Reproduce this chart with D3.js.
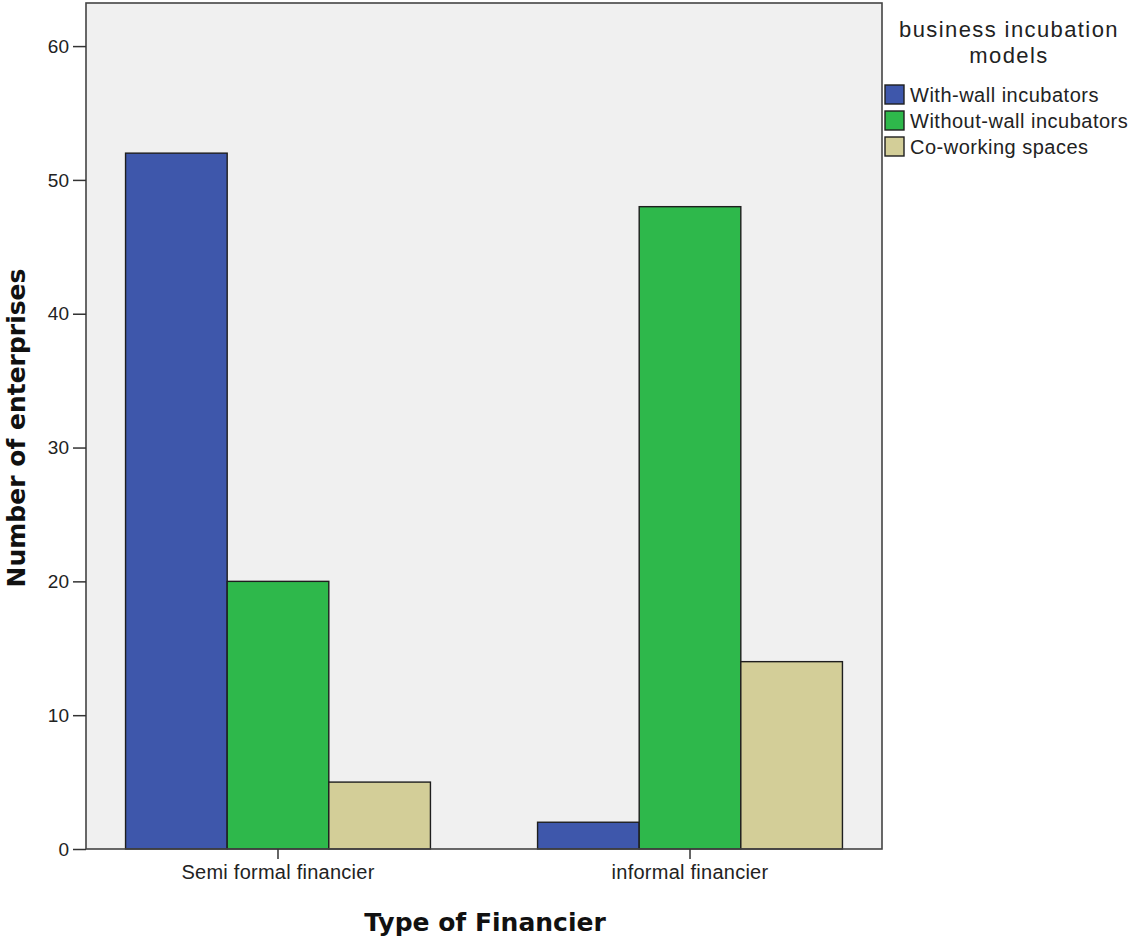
<!DOCTYPE html>
<html>
<head>
<meta charset="utf-8">
<script src="https://cdn.jsdelivr.net/npm/d3@7"></script>
<style>
  html, body { margin: 0; padding: 0; background: #ffffff; }
  svg { display: block; font-family: "Liberation Sans", Arial, sans-serif; }
</style>
</head>
<body>
<svg id="chart" width="1132" height="936"></svg>
<script>
// Clustered bar chart: enterprises by financier type and incubation model
const categories = ["Semi formal financier", "informal financier"];
const seriesNames = ["With-wall incubators", "Without-wall incubators", "Co-working spaces"];
const withWall = [52, 2];
const withoutWall = [20, 48];
const coworking = [5, 14];
const yTicks = [0, 10, 20, 30, 40, 50, 60];
const colors = ["#3e57ab", "#2eb84b", "#d3ce98"];

const series = [withWall, withoutWall, coworking];

const svg = d3.select("#chart");
const plot = { left: 86, right: 882, top: 3, bottom: 849 };

const x = d3.scaleBand()
  .domain(categories)
  .range([plot.left, plot.right])
  .paddingInner(0.26)
  .paddingOuter(0.096);

const xInner = d3.scaleBand()
  .domain(seriesNames)
  .range([0, x.bandwidth()]);

const y = d3.scaleLinear()
  .domain([0, 63.22])
  .range([plot.bottom, plot.top]);

// plot background
svg.append("rect")
  .attr("x", plot.left).attr("y", plot.top)
  .attr("width", plot.right - plot.left).attr("height", plot.bottom - plot.top)
  .attr("fill", "#f0f0f0");

// bars
const groups = svg.append("g").selectAll("g")
  .data(categories)
  .join("g")
  .attr("transform", d => `translate(${x(d)},0)`);

groups.selectAll("rect")
  .data((c, ci) => seriesNames.map((s, si) => ({ s, si, v: series[si][ci] })))
  .join("rect")
  .attr("x", d => xInner(d.s))
  .attr("y", d => y(d.v))
  .attr("width", xInner.bandwidth())
  .attr("height", d => y(0) - y(d.v))
  .attr("fill", d => colors[d.si])
  .attr("stroke", "#1e1e1e")
  .attr("stroke-width", 1.4);

// frame
svg.append("rect")
  .attr("x", plot.left).attr("y", plot.top)
  .attr("width", plot.right - plot.left).attr("height", plot.bottom - plot.top)
  .attr("fill", "none")
  .attr("stroke", "#444")
  .attr("stroke-width", 1.6);

// y axis
const yAxis = svg.append("g")
  .attr("transform", `translate(${plot.left},0)`)
  .call(d3.axisLeft(y).tickValues(yTicks).tickSize(13).tickPadding(4));
yAxis.select(".domain").remove();
yAxis.selectAll(".tick line").attr("stroke", "#333").attr("stroke-width", 1.5);
yAxis.selectAll(".tick text")
  .attr("fill", "#222")
  .style("font-size", "19px");

// x axis
const xAxis = svg.append("g")
  .attr("transform", `translate(0,${plot.bottom})`)
  .call(d3.axisBottom(x).tickSize(10).tickPadding(6));
xAxis.select(".domain").remove();
xAxis.selectAll(".tick line").attr("stroke", "#333").attr("stroke-width", 1.5);
xAxis.selectAll(".tick text")
  .attr("fill", "#222")
  .style("font-size", "20px")
  .style("letter-spacing", "0.25px");

// axis titles
svg.append("text")
  .attr("x", 485).attr("y", 931)
  .attr("text-anchor", "middle")
  .style("font-family", "'DejaVu Sans', sans-serif")
  .style("font-size", "25px").style("font-weight", "bold")
  .attr("fill", "#111")
  .text("Type of Financier");

svg.append("text")
  .attr("transform", "translate(25,428) rotate(-90)")
  .attr("text-anchor", "middle")
  .style("font-family", "'DejaVu Sans', sans-serif")
  .style("font-size", "25px").style("font-weight", "bold")
  .attr("fill", "#111")
  .text("Number of enterprises");

// legend
const legend = svg.append("g");
legend.append("text")
  .attr("x", 1009).attr("y", 37)
  .attr("text-anchor", "middle")
  .style("font-size", "22px").style("letter-spacing", "1.4px")
  .attr("fill", "#222")
  .text("business incubation");
legend.append("text")
  .attr("x", 1009).attr("y", 63)
  .attr("text-anchor", "middle")
  .style("font-size", "22px").style("letter-spacing", "1.4px")
  .attr("fill", "#222")
  .text("models");

const items = legend.selectAll("g.item")
  .data(seriesNames)
  .join("g")
  .attr("class", "item")
  .attr("transform", (d, i) => `translate(885,${85 + i * 26})`);
items.append("rect")
  .attr("width", 19).attr("height", 19)
  .attr("fill", (d, i) => colors[i])
  .attr("stroke", "#1e1e1e").attr("stroke-width", 1.4);
items.append("text")
  .attr("x", 25).attr("y", 17)
  .style("font-size", "20px").style("letter-spacing", "0.5px")
  .attr("fill", "#222")
  .text(d => d);
</script>
</body>
</html>
